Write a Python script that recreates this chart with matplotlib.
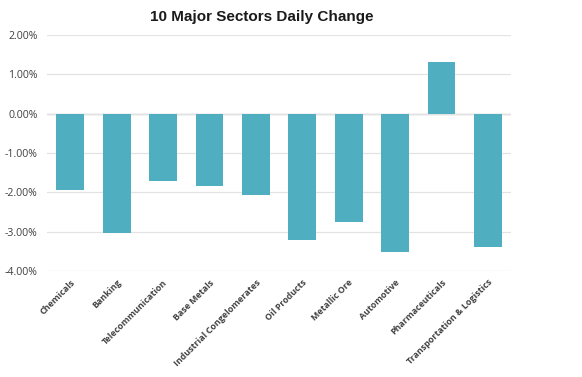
import matplotlib.pyplot as plt
from matplotlib.ticker import FuncFormatter

# ── DATA ──────────────────────────────────────────────────────────────────────
sectors = ["Chemicals", "Banking", "Telecommunication", "Base Metals",
           "Industrial Congelomerates", "Oil Products", "Metallic Ore",
           "Automotive", "Pharmaceuticals", "Transportation & Logistics"]
change = [-1.93, -3.03, -1.72, -1.85, -2.07, -3.20, -2.74, -3.52, 1.31, -3.38]
yticks = [2, 1, 0, -1, -2, -3, -4]

BAR = "#4FAFC0"
GRID = "#E3E3E3"
TXT = "#404040"

fig = plt.figure(figsize=(5.82, 3.77), dpi=100, facecolor="white")
ax = fig.add_axes([0.081, 0.281, 0.797, 0.626])

x = range(len(sectors))
ax.bar(x, change, width=0.6, color=BAR, zorder=2)

ax.set_ylim(-4, 2)
ax.set_xlim(-0.5, len(sectors) - 0.5)
ax.set_yticks(yticks)
ax.yaxis.set_major_formatter(FuncFormatter(lambda v, p: f"{v:.2f}%"))
ax.grid(axis="y", color=GRID, linewidth=0.9, zorder=0)
ax.axhline(0, color="#C8C8C8", linewidth=1.0, zorder=1)

ax.set_xticks(list(x))
ax.set_xticklabels(sectors, rotation=45, ha="right", rotation_mode="anchor",
                   fontsize=6.4, fontweight="bold", color=TXT, family="Open Sans")
ax.tick_params(axis="x", length=0, pad=5)
ax.tick_params(axis="y", length=0, labelsize=7.6, labelcolor=TXT, pad=7)
for lbl in ax.get_yticklabels():
    lbl.set_family("Open Sans")

for s in ax.spines.values():
    s.set_visible(False)

fig.text(0.449, 0.955, "10 Major Sectors Daily Change", ha="center", va="center",
         fontsize=11, fontweight="bold", family="Liberation Sans", color="#1A1A1A")

fig.savefig("out.png", dpi=100, facecolor="white")
